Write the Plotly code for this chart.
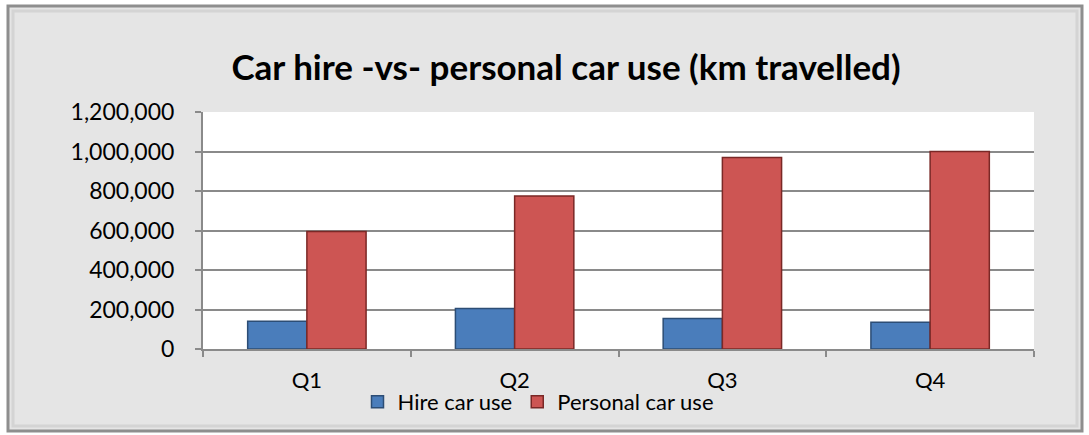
import plotly.graph_objects as go

# Quarterly distance travelled (km)
quarters = ["Q1", "Q2", "Q3", "Q4"]
hire_km = [140000, 205000, 155000, 135000]
personal_km = [595000, 775000, 970000, 1000000]
y_ticks = [0, 200000, 400000, 600000, 800000, 1000000, 1200000]

W, H = 1089, 435
L, R, T, B = 203, 55, 112, 86
pw, ph = W - L - R, H - T - B


def px_x(x):
    return (x - L) / pw


def px_y(y):
    return (H - B - y) / ph


FONT = "Lato, Calibri, Carlito, 'Open Sans', sans-serif"

fig = go.Figure()
fig.add_trace(go.Bar(
    name="Hire car use", x=quarters, y=hire_km,
    marker=dict(color="#4a7dbb", line=dict(color="#2c4d75", width=1.5)),
))
fig.add_trace(go.Bar(
    name="Personal car use", x=quarters, y=personal_km,
    marker=dict(color="#cd5553", line=dict(color="#7a2826", width=1.5)),
))

shapes = [
    # chart frame
    dict(type="rect", xref="paper", yref="paper", layer="below",
         x0=px_x(8), x1=px_x(1082), y0=px_y(431), y1=px_y(6),
         fillcolor="#e5e5e5", line=dict(color="#8e8e8e", width=3)),
    dict(type="rect", xref="paper", yref="paper", layer="below",
         x0=px_x(13), x1=px_x(1077), y0=px_y(426), y1=px_y(11),
         fillcolor="rgba(0,0,0,0)", line=dict(color="#d4d4d4", width=3)),
    # white plotting area
    dict(type="rect", xref="x domain", yref="y domain", layer="below",
         x0=0, x1=1, y0=0, y1=1, fillcolor="white", line=dict(width=0)),
]

fig.update_layout(
    width=W, height=H,
    margin=dict(l=L, r=R, t=T, b=B, pad=0),
    paper_bgcolor="white",
    plot_bgcolor="rgba(0,0,0,0)",
    barmode="group", bargap=0.43, bargroupgap=0,
    font=dict(family=FONT, color="black", size=22),
    title=dict(
        text="<b>Car hire -vs- personal car use (km travelled)</b>",
        x=566 / W, xref="container", xanchor="center",
        y=1 - 68 / H, yref="container", yanchor="middle",
        font=dict(family=FONT, size=35, color="black"),
    ),
    legend=dict(
        orientation="h", x=px_x(538), xanchor="center",
        y=px_y(402), yanchor="middle",
        font=dict(family=FONT, size=22, color="black"),
        bgcolor="rgba(0,0,0,0)", itemwidth=30, tracegroupgap=0,
    ),
    shapes=shapes,
    showlegend=True,
)

fig.update_xaxes(
    showgrid=False, showline=True, linecolor="#8a8a8a", linewidth=2,
    ticks="outside", tickson="boundaries", ticklen=6, tickcolor="#8a8a8a",
    tickwidth=1.5, ticklabelstandoff=11,
    tickfont=dict(family=FONT, size=22, color="black"),
)
fig.update_yaxes(
    range=[0, 1200000], tickvals=y_ticks, tickformat=",d",
    showgrid=True, gridcolor="#8a8a8a", gridwidth=2,
    showline=True, linecolor="#8a8a8a", linewidth=2,
    ticks="outside", ticklen=6, tickcolor="#8a8a8a", tickwidth=1.5,
    ticklabelstandoff=16, zeroline=False,
    tickfont=dict(family=FONT, size=23, color="black"),
)

fig.write_html("out.html")
